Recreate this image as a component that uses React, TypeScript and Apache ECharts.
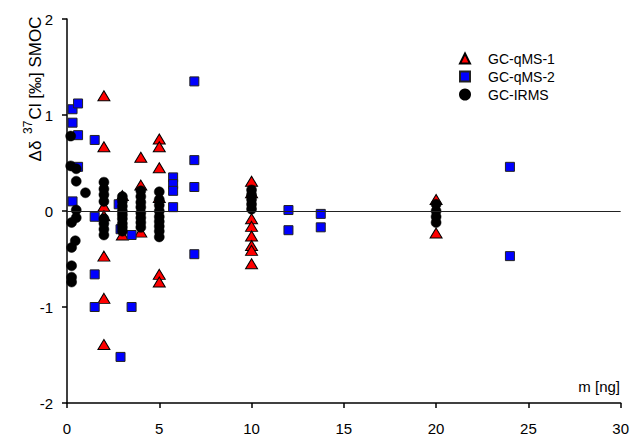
import React, { useEffect, useRef } from "react";
import * as echarts from "echarts";

// GC-qMS-1 : [m (ng), Δδ37Cl (‰)]
const gcQms1: [number, number][] = [
  [2, 1.2], [2, 0.67], [2, 0.05], [2, -0.05], [2, -0.47], [2, -0.91], [2, -1.39],
  [3, 0.16], [3, -0.25],
  [4, 0.56], [4, 0.27], [4, -0.22],
  [5, 0.75], [5, 0.67], [5, 0.45], [5, 0.14], [5, -0.66], [5, -0.74],
  [10, 0.31], [10, 0.19], [10, -0.08], [10, -0.16], [10, -0.26], [10, -0.36], [10, -0.41], [10, -0.55],
  [20, 0.12], [20, -0.23],
];

// GC-qMS-2
const gcQms2: [number, number][] = [
  [0.3, 1.06], [0.3, 0.92], [0.3, 0.1], [0.6, 1.12], [0.6, 0.79], [0.6, 0.46],
  [1.5, 0.74], [1.5, -0.06], [1.5, -0.66], [1.5, -1.0],
  [2.8, 0.07], [2.9, -0.19], [2.9, -1.52],
  [3.5, -0.25], [3.5, -1.0],
  [5.75, 0.35], [5.75, 0.28], [5.75, 0.21], [5.75, 0.04],
  [6.9, 1.35], [6.9, 0.53], [6.9, 0.25], [6.9, -0.45],
  [12, 0.01], [12, -0.2], [13.75, -0.03], [13.75, -0.17],
  [24, 0.46], [24, -0.47],
];

// GC-IRMS
const gcIrms: [number, number][] = [
  [0.2, 0.78], [0.2, 0.47], [0.5, 0.44], [0.5, 0.31], [1.0, 0.19], [0.5, 0.01], [0.5, -0.07],
  [0.25, -0.12], [0.45, -0.31], [0.25, -0.38], [0.25, -0.57], [0.25, -0.69], [0.25, -0.74],
  [2, 0.3], [2, 0.23], [2, 0.17], [2, 0.1], [2, -0.08], [2, -0.13], [2, -0.19], [2, -0.25],
  [3, 0.15], [3, 0.1], [3, 0.05], [3, 0.0], [3, -0.04], [3, -0.08], [3, -0.13], [3, -0.17], [3, -0.21],
  [4, 0.21], [4, 0.15], [4, 0.09], [4, 0.04], [4, -0.02], [4, -0.07], [4, -0.12], [4, -0.17],
  [5, 0.2], [5, 0.12], [5, 0.06], [5, 0.0], [5, -0.06], [5, -0.11], [5, -0.16], [5, -0.21], [5, -0.27],
  [10, 0.22], [10, 0.17], [10, 0.12], [10, 0.07], [10, 0.02],
  [20, 0.07], [20, 0.0], [20, -0.06], [20, -0.12],
];

const seriesNames = ["GC-qMS-1", "GC-qMS-2", "GC-IRMS"];
const xRange = { min: 0, max: 30, interval: 5 };
const yRange = { min: -2, max: 2, interval: 1 };

const FONT = "Arial, 'Liberation Sans', Helvetica, sans-serif";

export default function App() {
  const ref = useRef<HTMLDivElement>(null);

  useEffect(() => {
    if (!ref.current) return;
    const chart = echarts.init(ref.current, null, { renderer: "svg" });
    chart.setOption({
      animation: false,
      backgroundColor: "#ffffff",
      textStyle: { fontFamily: FONT },
      grid: { left: 67, right: 10, top: 19, bottom: 29, containLabel: false },
      legend: {
        orient: "vertical",
        left: 454,
        top: 46,
        itemWidth: 10,
        itemHeight: 10,
        itemGap: 3,
        data: [
          { name: seriesNames[0], icon: "triangle", itemStyle: { opacity: 1 } },
          { name: seriesNames[1], icon: "rect", itemStyle: { opacity: 1 } },
          { name: seriesNames[2], icon: "circle", itemStyle: { opacity: 1 } },
        ],
        textStyle: { fontSize: 14, color: "#000", fontFamily: FONT, padding: [0, 0, 0, 13], lineHeight: 15 },
      },
      xAxis: {
        type: "value",
        min: xRange.min,
        max: xRange.max,
        interval: xRange.interval,
        splitLine: { show: false },
        axisLine: { onZero: false, lineStyle: { color: "#000", width: 1.5 } },
        axisTick: { show: true, length: 5, lineStyle: { color: "#000", width: 1.5 } },
        axisLabel: { color: "#000", fontSize: 15, margin: 18, fontFamily: FONT },
      },
      yAxis: {
        type: "value",
        min: yRange.min,
        max: yRange.max,
        interval: yRange.interval,
        splitLine: { show: false },
        axisLine: { onZero: false, lineStyle: { color: "#000", width: 1.5 } },
        axisTick: { show: true, length: 5, lineStyle: { color: "#000", width: 1.5 } },
        axisLabel: { color: "#000", fontSize: 15, margin: 14, fontFamily: FONT },
      },
      graphic: [
        {
          type: "text",
          x: 33,
          y: 89,
          rotation: Math.PI / 2,
          style: {
            text: "{a|Δδ }{s|37}{a|Cl [‰] SMOC}",
            align: "center",
            verticalAlign: "middle",
            fill: "#000",
            rich: {
              a: { fontSize: 17, fontFamily: FONT, fill: "#000", lineHeight: 22, verticalAlign: "bottom" },
              s: { fontSize: 12, fontFamily: FONT, fill: "#000", lineHeight: 22, verticalAlign: "top", padding: [0, 1, 8, 2] },
            },
          },
        },
        {
          type: "text",
          x: 620,
          y: 386,
          style: {
            text: "m [ng]",
            align: "right",
            verticalAlign: "middle",
            fontSize: 15,
            fontFamily: FONT,
            fill: "#000",
          },
        },
      ],
      series: [
        {
          name: seriesNames[0],
          type: "scatter",
          symbol: "triangle",
          symbolSize: [12, 10],
          data: gcQms1,
          itemStyle: { color: "#ff0000", borderColor: "#000", borderWidth: 1, opacity: 1 },
          z: 2,
          markLine: {
            silent: true,
            symbol: "none",
            label: { show: false },
            lineStyle: { color: "#222", width: 1.2, type: "solid" },
            data: [{ yAxis: 0 }],
          },
        },
        {
          name: seriesNames[1],
          type: "scatter",
          symbol: "rect",
          symbolSize: 9,
          data: gcQms2,
          itemStyle: { color: "#0000ff", borderColor: "#222", borderWidth: 1, opacity: 1 },
          z: 3,
        },
        {
          name: seriesNames[2],
          type: "scatter",
          symbol: "circle",
          symbolSize: 10,
          data: gcIrms,
          itemStyle: { color: "#000", borderColor: "#000", borderWidth: 0.5, opacity: 1 },
          z: 4,
        },
      ],
    });
    return () => chart.dispose();
  }, []);

  return <div ref={ref} style={{ width: 632, height: 436, position: "absolute", left: 0, top: 0 }} />;
}
